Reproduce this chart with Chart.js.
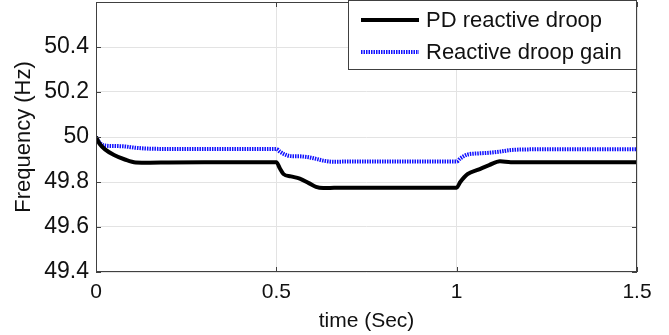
<!DOCTYPE html>
<html>
<head>
<meta charset="utf-8">
<script src="https://cdn.jsdelivr.net/npm/chart.js@4"></script>
<style>
  html, body { margin: 0; padding: 0; background: #fff; }
  #wrap { width: 669px; height: 335px; }
</style>
</head>
<body>
<div id="wrap"><canvas id="freqplot"></canvas></div>
<script>
// time samples (s)
const time = [0, 0.01, 0.025, 0.05, 0.08, 0.11, 0.15, 0.2, 0.3, 0.4, 0.5,
  0.51, 0.52, 0.54, 0.565, 0.59, 0.61, 0.63, 0.66, 0.7, 0.8, 0.9, 1.0,
  1.01, 1.03, 1.06, 1.09, 1.12, 1.15, 1.2, 1.3, 1.4, 1.5];

// PD reactive droop frequency (Hz)
const pdDroop = [50, 49.97, 49.945, 49.92, 49.90, 49.887, 49.886, 49.887, 49.888, 49.888, 49.888,
  49.86, 49.835, 49.825, 49.815, 49.795, 49.778, 49.773, 49.774, 49.775, 49.775, 49.775, 49.775,
  49.80, 49.835, 49.855, 49.875, 49.892, 49.888, 49.888, 49.888, 49.888, 49.888];

// reactive droop gain frequency (Hz)
const droopGain = [50, 49.975, 49.962, 49.96, 49.958, 49.952, 49.948, 49.947, 49.947, 49.947, 49.947,
  49.935, 49.925, 49.915, 49.914, 49.910, 49.903, 49.895, 49.89, 49.891, 49.891, 49.891, 49.891,
  49.905, 49.922, 49.927, 49.930, 49.935, 49.942, 49.945, 49.946, 49.946, 49.946];

const seriesNames = ['PD reactive droop', 'Reactive droop gain'];
const xTicks = [0, 0.5, 1, 1.5];
const yTicks = [49.4, 49.6, 49.8, 50, 50.2, 50.4];

const FONT = 'Liberation Sans, Arial, sans-serif';

const toPoints = ys => ys.map((y, i) => ({ x: time[i], y: y }));

// MATLAB-like box, inward ticks and boxed legend
const boxPlugin = {
  id: 'boxPlugin',
  afterDraw(chart) {
    const { ctx, chartArea: a, scales } = chart;
    ctx.save();
    ctx.strokeStyle = '#404040';
    ctx.lineWidth = 1;
    ctx.strokeRect(a.left + 0.5, a.top + 0.5, a.right - a.left - 1, a.bottom - a.top - 1);
    ctx.beginPath();
    yTicks.forEach(v => {
      const y = Math.round(scales.y.getPixelForValue(v)) + 0.5;
      ctx.moveTo(a.left, y); ctx.lineTo(a.left + 5, y);
      ctx.moveTo(a.right, y); ctx.lineTo(a.right - 5, y);
    });
    xTicks.forEach(v => {
      const x = Math.round(scales.x.getPixelForValue(v)) + 0.5;
      ctx.moveTo(x, a.bottom); ctx.lineTo(x, a.bottom - 5);
      ctx.moveTo(x, a.top); ctx.lineTo(x, a.top + 5);
    });
    ctx.stroke();

    // legend
    const lx = 348, ly = a.top - 2, lw = a.right - 348, lh = 70;
    ctx.fillStyle = '#fff';
    ctx.fillRect(lx, ly, lw, lh);
    ctx.strokeStyle = '#404040';
    ctx.strokeRect(lx + 0.5, ly + 0.5, lw - 1, lh - 1);
    ctx.font = '22px ' + FONT;
    ctx.textBaseline = 'middle';
    chart.data.datasets.forEach((ds, i) => {
      const cy = ly + 20 + i * 32;
      ctx.beginPath();
      ctx.strokeStyle = ds.borderColor;
      ctx.lineWidth = ds.borderWidth;
      ctx.setLineDash(ds.borderDash || []);
      ctx.moveTo(361, cy); ctx.lineTo(419, cy);
      ctx.stroke();
      ctx.setLineDash([]);
      ctx.fillStyle = '#111';
      ctx.fillText(ds.label, 426, cy + 1);
    });
    ctx.restore();
  }
};

new Chart(document.getElementById('freqplot'), {
  type: 'line',
  data: {
    datasets: [
      {
        label: seriesNames[0],
        data: toPoints(pdDroop),
        borderColor: '#000000',
        borderWidth: 4,
        pointRadius: 0,
        cubicInterpolationMode: 'monotone',
        order: 1
      },
      {
        label: seriesNames[1],
        data: toPoints(droopGain),
        borderColor: '#1010ff',
        borderWidth: 4,
        borderDash: [1.5, 1],
        pointRadius: 0,
        cubicInterpolationMode: 'monotone',
        order: 2
      }
    ]
  },
  options: {
    responsive: true,
    maintainAspectRatio: false,
    animation: false,
    layout: { padding: { left: 0, right: 32, top: 2, bottom: 0 } },
    plugins: {
      legend: { display: false },
      tooltip: { enabled: false }
    },
    scales: {
      x: {
        type: 'linear',
        min: 0,
        max: 1.5,
        afterBuildTicks: s => { s.ticks = xTicks.map(v => ({ value: v })); },
        afterFit: s => { s.height = 63; s.paddingLeft = 0; s.paddingRight = 0; },
        grid: { color: '#e3e3e3', drawTicks: false },
        border: { display: false },
        ticks: {
          padding: 8,
          color: '#111',
          font: { family: FONT, size: 21 },
          maxRotation: 0,
          callback: v => String(v)
        },
        title: {
          display: true,
          text: 'time (Sec)',
          color: '#111',
          font: { family: FONT, size: 21 },
          padding: { top: 0, bottom: 1 }
        }
      },
      y: {
        min: 49.4,
        max: 50.6,
        afterBuildTicks: s => { s.ticks = yTicks.map(v => ({ value: v })); },
        afterFit: s => { s.width = 96; s.paddingTop = 0; s.paddingBottom = 0; },
        grid: { color: '#e3e3e3', drawTicks: false },
        border: { display: false },
        ticks: {
          padding: 7,
          color: '#111',
          font: { family: FONT, size: 23 },
          callback: v => String(Number(v.toFixed(1)))
        },
        title: {
          display: true,
          text: 'Frequency (Hz)',
          color: '#111',
          font: { family: FONT, size: 22 },
          padding: { top: 11, bottom: 0 }
        }
      }
    }
  },
  plugins: [boxPlugin]
});
</script>
</body>
</html>
